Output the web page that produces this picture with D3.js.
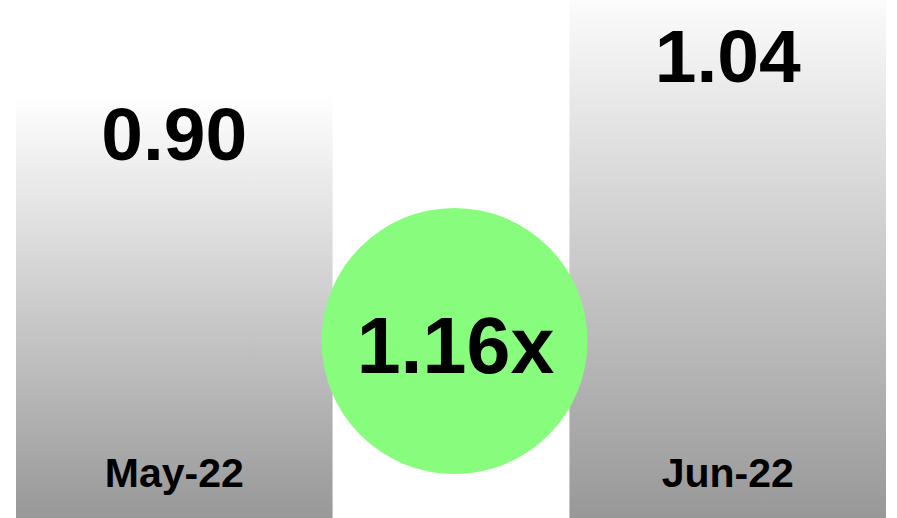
<!DOCTYPE html>
<html>
<head>
<meta charset="utf-8">
<script src="https://cdn.jsdelivr.net/npm/d3@7"></script>
<style>
  html, body { margin: 0; padding: 0; background: #fff; overflow: hidden; }
  svg { display: block; }
</style>
</head>
<body>
<svg id="chart" width="897" height="518"></svg>
<script>
// ---- data ----
const categories = ["May-22", "Jun-22"];
const values = [0.90, 1.04];
const valueLabels = ["0.90", "1.04"];
const growthLabel = ["1.16x"];

// ---- layout ----
const W = 897, H = 518;
const svg = d3.select("#chart");
const font = "'Liberation Sans', Arial, Helvetica, sans-serif";

const x = d3.scaleBand()
  .domain(categories)
  .range([16, 886])
  .paddingInner(0.428)
  .paddingOuter(0);

const y = d3.scaleLinear()
  .domain([0.90, 1.04])
  .range([96, -19]);

const defs = svg.append("defs");
categories.forEach((c, i) => {
  const g = defs.append("linearGradient")
    .attr("id", "grad" + i)
    .attr("x1", 0).attr("y1", 0).attr("x2", 0).attr("y2", 1);
  g.append("stop").attr("offset", "0%").attr("stop-color", "#ffffff");
  g.append("stop").attr("offset", "100%").attr("stop-color", "#989898");
});

const data = categories.map((c, i) => ({ c, v: values[i], label: valueLabels[i], i }));

svg.selectAll("rect.bar")
  .data(data)
  .join("rect")
  .attr("class", "bar")
  .attr("x", d => x(d.c))
  .attr("y", d => y(d.v))
  .attr("width", x.bandwidth())
  .attr("height", d => H - y(d.v))
  .attr("fill", d => `url(#grad${d.i})`);

// value labels
svg.selectAll("text.val")
  .data(data)
  .join("text")
  .attr("class", "val")
  .attr("x", d => x(d.c) + x.bandwidth() / 2)
  .attr("y", d => Math.max(y(d.v), 18) + 64)
  .attr("text-anchor", "middle")
  .attr("font-family", font)
  .attr("font-weight", "bold")
  .attr("font-size", 75)
  .attr("fill", "#000")
  .text(d => d.label);

// category labels
svg.selectAll("text.cat")
  .data(data)
  .join("text")
  .attr("class", "cat")
  .attr("x", d => x(d.c) + x.bandwidth() / 2)
  .attr("y", 487)
  .attr("text-anchor", "middle")
  .attr("font-family", font)
  .attr("font-weight", "bold")
  .attr("font-size", 41)
  .attr("fill", "#000")
  .text(d => d.c);

// growth circle
const cx = (x(categories[0]) + x.bandwidth() + x(categories[1])) / 2 + 3.5;
const cy = 341;
svg.append("circle")
  .attr("cx", cx)
  .attr("cy", cy)
  .attr("r", 133)
  .attr("fill", "#88fc7d");

svg.append("text")
  .data(growthLabel)
  .attr("x", cx + 1)
  .attr("y", 373)
  .attr("text-anchor", "middle")
  .attr("font-family", font)
  .attr("font-weight", "bold")
  .attr("font-size", 79)
  .attr("fill", "#000")
  .text(d => d);
</script>
</body>
</html>
